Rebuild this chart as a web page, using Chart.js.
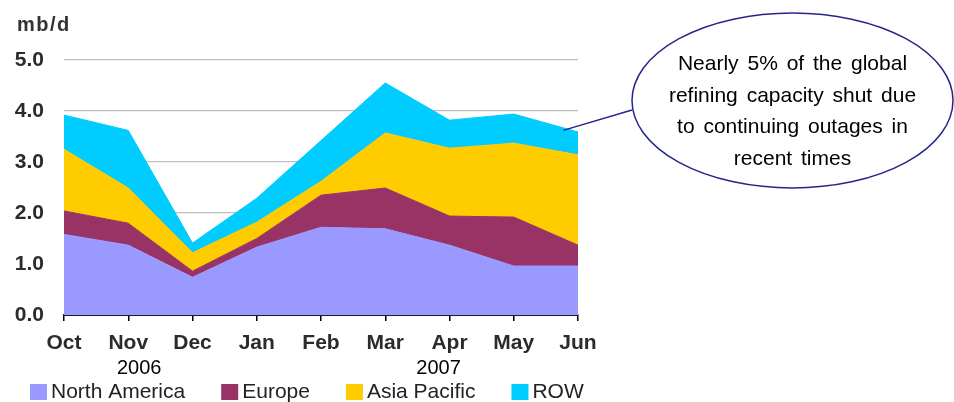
<!DOCTYPE html>
<html>
<head>
<meta charset="utf-8">
<script src="https://cdn.jsdelivr.net/npm/chart.js@4/dist/chart.umd.min.js"></script>
<style>
  html, body { margin: 0; padding: 0; background: #fff; }
  #wrap { width: 954px; height: 402px; position: relative; }
</style>
</head>
<body>
<div id="wrap"><canvas id="c" width="954" height="402"></canvas></div>
<script>
// Months on the category axis
const months = ['Oct', 'Nov', 'Dec', 'Jan', 'Feb', 'Mar', 'Apr', 'May', 'Jun'];

// Shut refining capacity by region, mb/d (stacked)
const northAmerica = [1.58, 1.37, 0.74, 1.33, 1.72, 1.69, 1.37, 0.96, 0.96];
const europe       = [0.46, 0.43, 0.12, 0.17, 0.63, 0.80, 0.57, 0.96, 0.41];
const asiaPacific  = [1.21, 0.69, 0.36, 0.32, 0.27, 1.08, 1.33, 1.45, 1.77];
const row          = [0.67, 1.13, 0.19, 0.47, 0.80, 0.98, 0.55, 0.57, 0.45];

const seriesNames  = ['North America', 'Europe', 'Asia Pacific', 'ROW'];
const seriesColors = ['#9999ff', '#993366', '#ffcc00', '#00ccff'];

// Year group labels, placed at a fractional category index
const yearLabels = [
  { text: '2006', at: 1.17 },
  { text: '2007', at: 5.83 }
];

const unitLabel = 'mb/d';

const calloutLines = [
  'Nearly 5% of the global',
  'refining capacity shut due',
  'to continuing outages in',
  'recent times'
];

const FONT = '"Liberation Sans", Arial, Helvetica, sans-serif';

const seriesData = [northAmerica, europe, asiaPacific, row];
const datasets = seriesData.map((d, i) => ({
  label: seriesNames[i],
  data: d,
  backgroundColor: seriesColors[i],
  borderColor: seriesColors[i],
  borderWidth: 1,
  pointRadius: 0,
  pointHoverRadius: 0,
  tension: 0,
  fill: i === 0 ? 'origin' : '-1'
}));

// Extra annotations: unit label, year labels, legend and the callout bubble
const annotations = {
  id: 'annotations',
  afterDraw(chart) {
    const ctx = chart.ctx;
    const xs = chart.scales.x;
    const ys = chart.scales.y;
    ctx.save();

    // unit label
    ctx.fillStyle = '#333';
    ctx.font = 'bold 20px ' + FONT;
    ctx.textAlign = 'left';
    ctx.textBaseline = 'alphabetic';
    if ('letterSpacing' in ctx) ctx.letterSpacing = '1.5px';
    ctx.fillText(unitLabel, 17, 31);
    if ('letterSpacing' in ctx) ctx.letterSpacing = '0px';

    // year labels
    ctx.fillStyle = '#000';
    ctx.font = '20px ' + FONT;
    ctx.textAlign = 'center';
    yearLabels.forEach(y => {
      ctx.fillText(y.text, xs.getPixelForValue(y.at), 374);
    });

    // legend
    ctx.font = '21px ' + FONT;
    ctx.textAlign = 'left';
    let lx = 30;
    seriesNames.forEach((name, i) => {
      ctx.fillStyle = seriesColors[i];
      ctx.fillRect(lx, 384, 17, 16);
      ctx.fillStyle = '#222';
      ctx.fillText(name, lx + 21, 398);
      lx += 21 + ctx.measureText(name).width + 36;
    });

    // callout bubble with leader line to the latest month
    const cx = 792.5, cy = 100.5, rx = 160.5, ry = 87.5;
    ctx.strokeStyle = '#26268a';
    ctx.lineWidth = 1.5;
    ctx.beginPath();
    ctx.moveTo(632, 110);
    ctx.lineTo(xs.getPixelForValue(7.77), ys.getPixelForValue(3.62));
    ctx.stroke();
    ctx.beginPath();
    ctx.ellipse(cx, cy, rx, ry, 0, 0, Math.PI * 2);
    ctx.fillStyle = '#fff';
    ctx.fill();
    ctx.stroke();

    ctx.fillStyle = '#000';
    ctx.font = '21px ' + FONT;
    ctx.textAlign = 'center';
    if ('wordSpacing' in ctx) ctx.wordSpacing = '3px';
    calloutLines.forEach((line, i) => {
      ctx.fillText(line, cx, 70 + i * 31.5);
    });
    ctx.restore();
  }
};

new Chart(document.getElementById('c'), {
  type: 'line',
  data: { labels: months, datasets },
  options: {
    responsive: false,
    devicePixelRatio: 1,
    animation: false,
    events: [],
    layout: { padding: { left: 0, right: 376, top: 60, bottom: 0 } },
    plugins: {
      legend: { display: false },
      tooltip: { enabled: false },
      filler: { propagate: false }
    },
    scales: {
      x: {
        type: 'category',
        offset: false,
        grid: {
          display: true,
          drawOnChartArea: false,
          drawTicks: true,
          tickLength: 6,
          color: '#000',
          lineWidth: 1.5
        },
        border: { display: true, color: '#1a1a33', width: 2 },
        ticks: {
          color: '#2b2b2b',
          font: { family: FONT, size: 21, weight: 'bold' },
          padding: 10,
          maxRotation: 0,
          autoSkip: false
        },
        afterFit(s) { s.height = 87; }
      },
      y: {
        stacked: true,
        min: 0,
        max: 5,
        grid: { color: '#bfbfbf', lineWidth: 1.2, drawTicks: false },
        border: { display: false },
        ticks: {
          stepSize: 1,
          padding: 20,
          color: '#2b2b2b',
          font: { family: FONT, size: 21, weight: 'bold' },
          callback: v => Number(v).toFixed(1)
        },
        afterFit(s) { s.width = 64; }
      }
    }
  },
  plugins: [annotations]
});
</script>
</body>
</html>
